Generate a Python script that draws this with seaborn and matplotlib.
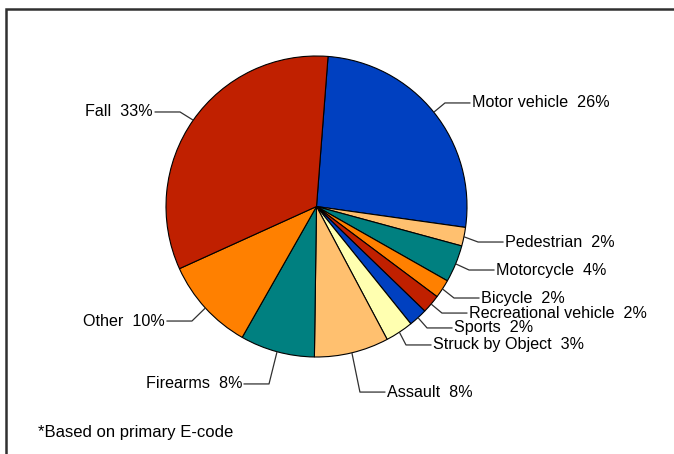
import numpy as np
import matplotlib
matplotlib.use('Agg')
import matplotlib.pyplot as plt
import seaborn as sns
from matplotlib.patches import Rectangle

# data
categories = ['Motor vehicle', 'Pedestrian', 'Motorcycle', 'Bicycle', 'Recreational vehicle',
              'Sports', 'Struck by Object', 'Assault', 'Firearms', 'Other', 'Fall']
percents = [26, 2, 4, 2, 2, 2, 3, 8, 8, 10, 33]
colors = ['#0040C0', '#FFC06F', '#008080', '#FF8000', '#C02000',
          '#0040C0', '#FFFFB0', '#FFC06F', '#008080', '#FF8000', '#C02000']

# label text positions (pie radius = 1, centre = 0,0)
label_x = [1.033, 1.253, 1.193, 1.093, 1.013, 0.914, 0.774, 0.468, -0.495, -1.007, -1.086]
label_y = [0.688, -0.236, -0.422, -0.608, -0.708, -0.807, -0.920, -1.233, -1.179, -0.761, 0.628]

sns.set_theme(style="white")
plt.rcParams['font.family'] = ['Liberation Sans', 'DejaVu Sans']

fig = plt.figure(figsize=(6.74, 4.54), dpi=100)
W, H = 674, 454
cx, cy, r = 316.5, 206.5, 150.5
ax = fig.add_axes([(cx - r) / W, (H - cy - r) / H, 2 * r / W, 2 * r / H])

wedges, _ = ax.pie(percents, colors=colors, startangle=85.6, counterclock=False,
                   wedgeprops=dict(edgecolor='black', linewidth=0.8), radius=1)
ax.set_xlim(-1, 1)
ax.set_ylim(-1, 1)
ax.set_aspect('equal')
ax.axis('off')

elbow = 27 / r
for w, name, p, lx, ly in zip(wedges, categories, percents, label_x, label_y):
    mid = np.deg2rad((w.theta1 + w.theta2) / 2)
    ax_, ay_ = np.cos(mid), np.sin(mid)
    side = 1 if lx > 0 else -1
    ex = lx - side * elbow
    gap = side * 1.5 / r
    ax.plot([ax_, ex, lx - gap], [ay_, ly, ly], color='#303030', lw=0.9,
            clip_on=False, solid_capstyle='butt')
    ax.text(lx, ly, f'{name}  {p}%', ha='left' if side > 0 else 'right',
            va='center', fontsize=11.6, color='black')

fig.text(38 / W, 1 - 432 / H, '*Based on primary E-code', fontsize=12,
         ha='left', va='center', color='black')

# outer frame
fig.patches.append(Rectangle((6 / W, -0.1), 1.2, 1.1 - 9.5 / H, transform=fig.transFigure,
                             fill=False, edgecolor='#303030', linewidth=1.8))

fig.savefig('out.png', dpi=100)
